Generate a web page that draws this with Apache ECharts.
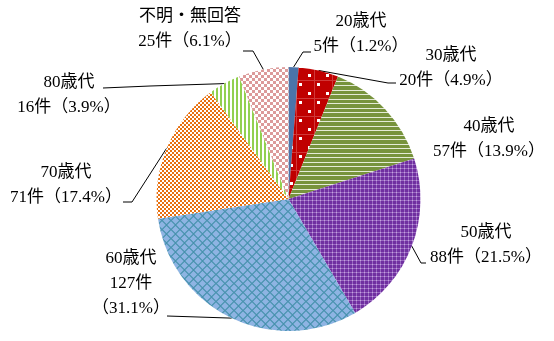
<!DOCTYPE html>
<html><head><meta charset="utf-8">
<script src="https://cdn.jsdelivr.net/npm/echarts@6/dist/echarts.min.js"></script>
<style>html,body{margin:0;padding:0;background:#fff}#c{width:554px;height:341px}</style>
</head><body><div id="c"></div>
<script>
const categories = ['20歳代','30歳代','40歳代','50歳代','60歳代','70歳代','80歳代','不明・無回答'];
const counts = [5, 20, 57, 88, 127, 71, 16, 25];
const percents = ['1.2', '4.9', '13.9', '21.5', '31.1', '17.4', '3.9', '6.1'];

// layout only: label block centres and leader-line bend points
const labelPos = [[361,34],[451,68],[489,139],[486,245],[131,284],[66,185],[69,95],[190,29]];
const leaderBends = [
  [[303,52],[311,52]],
  [[388,83],[396,83]],
  null,
  [[421,263],[426,263]],
  [[198,317],[167,316]],
  [[132,202],[123,202]],
  [[150,86],[103,88]],
  [[253,51],[243,51]]
];

function tile(w, h, draw) {
  const c = document.createElement('canvas');
  c.width = w; c.height = h;
  const g = c.getContext('2d');
  draw(g, w, h);
  return { image: c, repeat: 'repeat' };
}
const fills = [
  '#4b74aa',
  tile(18, 18, g => {
    g.fillStyle = '#c00000'; g.fillRect(0, 0, 18, 18);
    g.fillStyle = '#d03838'; g.fillRect(0, 8, 18, 1); g.fillRect(8, 0, 1, 18);
    g.fillStyle = '#ffffff'; g.fillRect(2, 2, 3, 3); g.fillRect(11, 11, 3, 3);
  }),
  tile(9, 9, g => {
    g.fillStyle = '#77933c'; g.fillRect(0, 0, 9, 9);
    g.fillStyle = '#e4ebd6'; g.fillRect(0, 0, 9, 1); g.fillRect(0, 4, 9, 1);
  }),
  tile(4, 4, g => {
    g.fillStyle = '#7030a0'; g.fillRect(0, 0, 4, 4);
    g.fillStyle = '#9a68c2'; g.fillRect(0, 0, 4, 1); g.fillRect(0, 0, 1, 4);
    g.fillStyle = '#c4a6dc'; g.fillRect(0, 0, 1, 1);
  }),
  tile(9, 9, g => {
    g.fillStyle = '#8eb4e3'; g.fillRect(0, 0, 9, 9);
    g.strokeStyle = '#4792ad'; g.lineWidth = 1.1;
    g.beginPath();
    g.moveTo(0, 4.5); g.lineTo(4.5, 0); g.lineTo(9, 4.5); g.lineTo(4.5, 9); g.closePath();
    g.stroke();
  }),
  tile(4, 4, g => {
    g.fillStyle = '#ffffff'; g.fillRect(0, 0, 4, 4);
    g.fillStyle = '#e8700f'; g.fillRect(0, 0, 2, 2); g.fillRect(2, 2, 2, 2);
  }),
  tile(4, 1, g => {
    g.fillStyle = '#ffffff'; g.fillRect(0, 0, 4, 1);
    g.fillStyle = '#92d050'; g.fillRect(0, 0, 2, 1);
  }),
  tile(6, 6, g => {
    g.fillStyle = '#ffffff'; g.fillRect(0, 0, 6, 6);
    g.fillStyle = '#dc9a9a'; g.fillRect(0, 0, 3, 3); g.fillRect(3, 3, 3, 3);
  })
];

const chart = echarts.init(document.getElementById('c'), null, { renderer: 'canvas' });
chart.setOption({
  animation: false,
  backgroundColor: '#ffffff',
  series: [{
    type: 'pie',
    center: [288.5, 199],
    radius: [0, 132],
    startAngle: 90,
    clockwise: true,
    avoidLabelOverlap: false,
    silent: true,
    itemStyle: { borderWidth: 0 },
    label: {
      show: true,
      position: 'outside',
      color: '#000',
      fontSize: 17,
      lineHeight: 25,
      fontFamily: "'Liberation Serif','Noto Sans CJK JP',serif",
      align: 'center',
      formatter: p => {
        const i = p.dataIndex;
        return i === 4
          ? `${p.name}\n${p.value}件\n（${percents[i]}%）`
          : `${p.name}\n${p.value}件（${percents[i]}%）`;
      }
    },
    labelLine: { show: true, lineStyle: { color: '#000', width: 1 } },
    labelLayout: params => {
      const i = params.dataIndex;
      const res = { x: labelPos[i][0], y: labelPos[i][1], align: 'center', verticalAlign: 'middle' };
      const b = leaderBends[i];
      if (b && params.labelLinePoints) res.labelLinePoints = [params.labelLinePoints[0], b[0], b[1]];
      return res;
    },
    data: categories.map((name, i) => ({
      name, value: counts[i],
      itemStyle: { color: fills[i] },
      labelLine: { show: leaderBends[i] !== null }
    }))
  }]
});
</script></body></html>
